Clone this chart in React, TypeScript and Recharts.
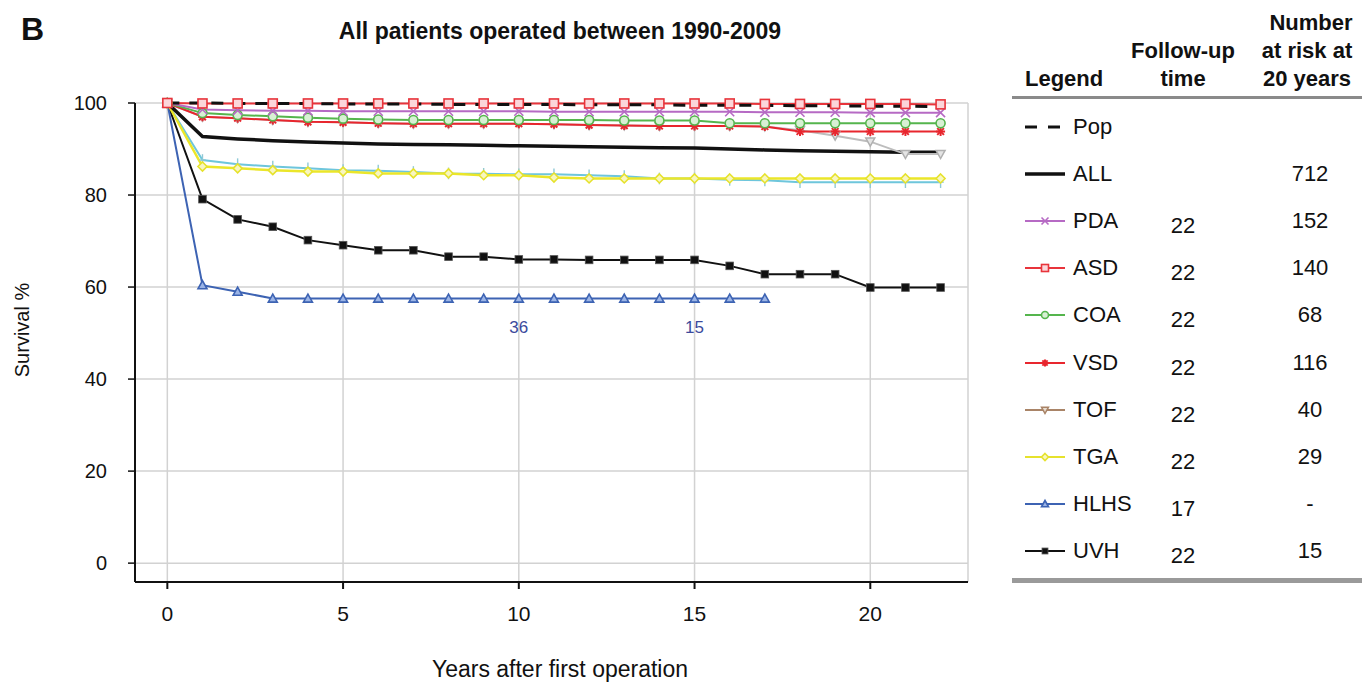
import React from 'react'
import { LineChart, Line, XAxis, YAxis, CartesianGrid, LabelList } from 'recharts'

const years = [0, 1, 2, 3, 4, 5, 6, 7, 8, 9, 10, 11, 12, 13, 14, 15, 16, 17, 18, 19, 20, 21, 22]

const pop = [100, 100, 99.9, 99.9, 99.9, 99.8, 99.8, 99.8, 99.7, 99.7, 99.7, 99.7, 99.6, 99.6, 99.6, 99.5, 99.5, 99.5, 99.4, 99.4, 99.3, 99.3, 99.2]
const allPatients = [100, 92.7, 92.2, 91.8, 91.5, 91.3, 91.1, 91.0, 90.9, 90.8, 90.7, 90.6, 90.5, 90.4, 90.3, 90.2, 90.0, 89.8, 89.6, 89.5, 89.4, 89.3, 89.3]
const pda = [100, 98.6, 98.4, 98.3, 98.3, 98.2, 98.2, 98.2, 98.2, 98.2, 98.2, 98.1, 98.1, 98.1, 98.1, 98.1, 98.1, 98.0, 98.0, 98.0, 97.9, 97.9, 97.9]
const asd = [100, 99.9, 99.9, 99.9, 99.9, 99.9, 99.9, 99.9, 99.9, 99.9, 99.9, 99.9, 99.9, 99.9, 99.9, 99.9, 99.9, 99.8, 99.8, 99.8, 99.8, 99.8, 99.7]
const coa = [100, 97.8, 97.4, 97.1, 96.8, 96.6, 96.4, 96.3, 96.3, 96.3, 96.3, 96.3, 96.3, 96.2, 96.2, 96.2, 95.6, 95.6, 95.6, 95.6, 95.6, 95.6, 95.6]
const vsd = [100, 97.0, 96.7, 96.3, 95.9, 95.8, 95.6, 95.5, 95.5, 95.5, 95.5, 95.4, 95.2, 95.1, 95.0, 95.0, 95.0, 94.9, 93.8, 93.8, 93.8, 93.8, 93.8]
const tof = [100, 97.0, 96.7, 96.3, 95.9, 95.8, 95.6, 95.5, 95.5, 95.5, 95.5, 95.4, 95.2, 95.1, 95.0, 95.0, 95.0, 94.9, 94.1, 92.9, 91.6, 88.9, 88.9]
const other = [100, 87.6, 86.7, 86.2, 85.8, 85.4, 85.3, 85.0, 84.7, 84.6, 84.5, 84.5, 84.3, 84.1, 83.6, 83.6, 83.3, 83.2, 82.8, 82.8, 82.8, 82.8, 82.8]
const tga = [100, 86.2, 85.8, 85.4, 85.1, 85.1, 84.7, 84.7, 84.7, 84.3, 84.3, 83.8, 83.6, 83.6, 83.6, 83.6, 83.6, 83.6, 83.6, 83.6, 83.6, 83.6, 83.6]
const hlhs = [100, 60.4, 59.0, 57.5, 57.5, 57.5, 57.5, 57.5, 57.5, 57.5, 57.5, 57.5, 57.5, 57.5, 57.5, 57.5, 57.5, 57.5]
const uvh = [100, 79.1, 74.7, 73.1, 70.2, 69.1, 68.0, 68.0, 66.6, 66.6, 66.0, 66.0, 65.9, 65.9, 65.9, 65.9, 64.6, 62.8, 62.8, 62.8, 59.9, 59.9, 59.9]

// numbers at risk written under the HLHS curve
const hlhsAtRisk: Record<number, string> = { 10: '36', 15: '15' }

const xTicks = [0, 5, 10, 15, 20]
const yTicks = [0, 20, 40, 60, 80, 100]

const legendRows = [
  { name: 'Pop', followUp: '', atRisk: '' },
  { name: 'ALL', followUp: '', atRisk: '712' },
  { name: 'PDA', followUp: '22', atRisk: '152' },
  { name: 'ASD', followUp: '22', atRisk: '140' },
  { name: 'COA', followUp: '22', atRisk: '68' },
  { name: 'VSD', followUp: '22', atRisk: '116' },
  { name: 'TOF', followUp: '22', atRisk: '40' },
  { name: 'TGA', followUp: '22', atRisk: '29' },
  { name: 'HLHS', followUp: '17', atRisk: '-' },
  { name: 'UVH', followUp: '22', atRisk: '15' },
]

const data = years.map((year, i) => ({
  year,
  pop: pop[i],
  all: allPatients[i],
  pda: pda[i],
  asd: asd[i],
  coa: coa[i],
  vsd: vsd[i],
  tof: tof[i],
  other: other[i],
  tga: tga[i],
  hlhs: i < hlhs.length ? hlhs[i] : null,
  uvh: uvh[i],
}))

type Shape = 'x' | 'square' | 'circle' | 'star' | 'tridown' | 'diamond' | 'triup' | 'block' | 'tick'

const style: Record<string, { color: string; shape?: Shape; fill?: string }> = {
  Pop: { color: '#111' },
  ALL: { color: '#111' },
  PDA: { color: '#b66ac4', shape: 'x' },
  ASD: { color: '#e8343b', shape: 'square', fill: '#fbd6da' },
  COA: { color: '#55b54d', shape: 'circle', fill: '#d8f0d4' },
  VSD: { color: '#e8262e', shape: 'star' },
  TOF: { color: '#a98467', shape: 'tridown', fill: '#e8dccf' },
  TGA: { color: '#e6e22c', shape: 'diamond', fill: '#f8f6c0' },
  HLHS: { color: '#3d63b3', shape: 'triup', fill: '#9bb4e6' },
  UVH: { color: '#111', shape: 'block' },
}

function marker(shape: Shape, cx: number, cy: number, color: string, fill = 'none', s = 4.5) {
  switch (shape) {
    case 'x':
      return (
        <g stroke={color} strokeWidth={1.6}>
          <line x1={cx - s} y1={cy - s} x2={cx + s} y2={cy + s} />
          <line x1={cx - s} y1={cy + s} x2={cx + s} y2={cy - s} />
        </g>
      )
    case 'square':
      return <rect x={cx - s} y={cy - s} width={s * 2} height={s * 2} fill={fill} stroke={color} strokeWidth={1.6} />
    case 'circle':
      return <circle cx={cx} cy={cy} r={s} fill={fill} stroke={color} strokeWidth={1.6} />
    case 'star':
      return (
        <g stroke={color} strokeWidth={2}>
          <line x1={cx - s} y1={cy} x2={cx + s} y2={cy} />
          <line x1={cx} y1={cy - s} x2={cx} y2={cy + s} />
          <line x1={cx - s * 0.75} y1={cy - s * 0.75} x2={cx + s * 0.75} y2={cy + s * 0.75} />
          <line x1={cx - s * 0.75} y1={cy + s * 0.75} x2={cx + s * 0.75} y2={cy - s * 0.75} />
        </g>
      )
    case 'tridown':
      return <polygon points={`${cx - s},${cy - s * 0.8} ${cx + s},${cy - s * 0.8} ${cx},${cy + s}`} fill={fill} stroke={color} strokeWidth={1.5} />
    case 'diamond':
      return <polygon points={`${cx},${cy - s} ${cx + s},${cy} ${cx},${cy + s} ${cx - s},${cy}`} fill={fill} stroke={color} strokeWidth={1.6} />
    case 'triup':
      return <polygon points={`${cx - s},${cy + s * 0.8} ${cx + s},${cy + s * 0.8} ${cx},${cy - s}`} fill={fill} stroke={color} strokeWidth={1.6} />
    case 'block':
      return <rect x={cx - s * 0.85} y={cy - s * 0.85} width={s * 1.7} height={s * 1.7} fill={color} stroke="#555" strokeWidth={0.8} />
    case 'tick':
      return (
        <g stroke={color} strokeWidth={1.4}>
          <line x1={cx} y1={cy - s * 1.3} x2={cx} y2={cy + s * 1.3} />
          <line x1={cx - s * 0.7} y1={cy} x2={cx + s * 0.7} y2={cy} />
        </g>
      )
  }
}

function dotFor(key: string, shape: Shape, color: string, fill?: string) {
  return (props: any) => {
    const { cx, cy, index } = props
    if (cx == null || cy == null || props.value == null) return <g key={`${key}-${index}`} />
    return <g key={`${key}-${index}`}>{marker(shape, cx, cy, color, fill)}</g>
  }
}

function AtRiskLabel(props: any) {
  const { x, y, index } = props
  const txt = hlhsAtRisk[index]
  if (!txt || x == null) return null
  return (
    <text x={x} y={y + 34} textAnchor="middle" fontSize={17} fill="#3b4a9c" fontFamily='"Liberation Sans", Arial, sans-serif'>
      {txt}
    </text>
  )
}

function LegendSample({ name }: { name: string }) {
  const st = style[name]
  return (
    <svg width={46} height={20} style={{ position: 'absolute', left: 1022, top: -10 }}>
      {name === 'Pop' ? (
        <g stroke="#111" strokeWidth={3}>
          <line x1={3} y1={10} x2={15} y2={10} />
          <line x1={26} y1={10} x2={38} y2={10} />
        </g>
      ) : (
        <line x1={3} y1={10} x2={43} y2={10} stroke={st.color} strokeWidth={name === 'ALL' ? 3.5 : 2} />
      )}
      {st.shape && marker(st.shape, 23, 10, st.color, st.fill, 3.5)}
    </svg>
  )
}

const font = '"Liberation Sans", Arial, Helvetica, sans-serif'
const head = { position: 'absolute' as const, textAlign: 'center' as const, fontSize: 22, fontWeight: 'bold' as const, whiteSpace: 'nowrap' as const }

export default function App() {
  const rowTop = 127
  const rowGap = 47.1
  return (
    <div style={{ position: 'absolute', left: 0, top: 0, width: 1362, height: 684, background: '#fff', fontFamily: font, color: '#111', overflow: 'hidden' }}>
      <div style={{ position: 'absolute', left: 21, top: 11, fontSize: 32, fontWeight: 'bold' }}>B</div>
      <div style={{ position: 'absolute', left: 260, width: 600, top: 18, textAlign: 'center', fontSize: 23, fontWeight: 'bold' }}>
        All patients operated between 1990-2009
      </div>
      <div style={{ position: 'absolute', left: 22, top: 330, transform: 'translate(-50%, -50%) rotate(-90deg)', fontSize: 20, whiteSpace: 'nowrap' }}>
        Survival %
      </div>
      <div style={{ position: 'absolute', left: 260, width: 600, top: 656, textAlign: 'center', fontSize: 23 }}>
        Years after first operation
      </div>

      <div style={{ position: 'absolute', left: 0, top: 0 }}>
        <LineChart width={1000} height={684} data={data} margin={{ top: 103, right: 32, bottom: 62, left: 0 }}>
          <CartesianGrid stroke="#d2d2d2" strokeWidth={1.5} />
          <XAxis
            dataKey="year"
            type="number"
            domain={[-0.92, 22.78]}
            ticks={xTicks}
            height={40}
            tick={{ fill: '#111', fontSize: 21, fontFamily: font }}
            tickSize={7}
            tickMargin={17}
            axisLine={{ stroke: '#111', strokeWidth: 2 }}
            tickLine={{ stroke: '#111', strokeWidth: 2 }}
          />
          <YAxis
            type="number"
            domain={[-4.1, 100]}
            ticks={yTicks}
            width={135}
            tick={{ fill: '#111', fontSize: 20, fontFamily: font }}
            tickSize={7}
            tickMargin={21}
            axisLine={{ stroke: '#111', strokeWidth: 2 }}
            tickLine={{ stroke: '#111', strokeWidth: 1.5 }}
          />
          <Line dataKey="uvh" stroke="#111" strokeWidth={2} dot={dotFor('uvh', 'block', '#111')} isAnimationActive={false} />
          <Line dataKey="hlhs" stroke="#3d63b3" strokeWidth={2} dot={dotFor('hlhs', 'triup', '#3d63b3', '#9bb4e6')} isAnimationActive={false} connectNulls={false}>
            <LabelList dataKey="hlhs" content={AtRiskLabel} />
          </Line>
          <Line dataKey="other" stroke="#6ec6dc" strokeWidth={2} dot={dotFor('other', 'tick', '#8fc9d6')} isAnimationActive={false} />
          <Line dataKey="tga" stroke="#ebe62a" strokeWidth={2.5} dot={dotFor('tga', 'diamond', '#e6e22c', '#f8f6c0')} isAnimationActive={false} />
          <Line dataKey="all" stroke="#111" strokeWidth={3.5} dot={false} isAnimationActive={false} />
          <Line dataKey="tof" stroke="#bdbdbd" strokeWidth={2} dot={dotFor('tof', 'tridown', '#b0b0b0', '#e4e4e4')} isAnimationActive={false} />
          <Line dataKey="vsd" stroke="#e8262e" strokeWidth={2} dot={dotFor('vsd', 'star', '#e8262e')} isAnimationActive={false} />
          <Line dataKey="coa" stroke="#55b54d" strokeWidth={2} dot={dotFor('coa', 'circle', '#55b54d', '#d8f0d4')} isAnimationActive={false} />
          <Line dataKey="pda" stroke="#b66ac4" strokeWidth={2} dot={dotFor('pda', 'x', '#b66ac4')} isAnimationActive={false} />
          <Line dataKey="asd" stroke="#e8343b" strokeWidth={2} dot={dotFor('asd', 'square', '#e8343b', '#fbd6da')} isAnimationActive={false} />
          <Line dataKey="pop" stroke="#111" strokeWidth={3} strokeDasharray="12 10" dot={false} isAnimationActive={false} />
        </LineChart>
      </div>

      {/* table legend */}
      <div style={{ ...head, left: 1246, width: 130, top: 10 }}>Number</div>
      <div style={{ ...head, left: 1118, width: 130, top: 38 }}>Follow-up</div>
      <div style={{ ...head, left: 1242, width: 130, top: 38 }}>at risk at</div>
      <div style={{ ...head, left: 1025, top: 66, textAlign: 'left' }}>Legend</div>
      <div style={{ ...head, left: 1118, width: 130, top: 66 }}>time</div>
      <div style={{ ...head, left: 1242, width: 130, top: 66 }}>20 years</div>
      <div style={{ position: 'absolute', left: 1012, top: 96, width: 350, height: 3, background: '#8a8a8a' }} />
      {legendRows.map((r, i) => {
        const cy = rowTop + i * rowGap
        return (
          <div key={r.name} style={{ position: 'absolute', left: 0, top: cy }}>
            <LegendSample name={r.name} />
            <div style={{ position: 'absolute', left: 1073, top: -13, fontSize: 22, whiteSpace: 'nowrap' }}>{r.name}</div>
            <div style={{ position: 'absolute', left: 1143, width: 80, top: -8, textAlign: 'center', fontSize: 22 }}>{r.followUp}</div>
            <div style={{ position: 'absolute', left: 1270, width: 80, top: -13, textAlign: 'center', fontSize: 22 }}>{r.atRisk}</div>
          </div>
        )
      })}
      <div style={{ position: 'absolute', left: 1012, top: 578, width: 350, height: 5, background: '#9a9a9a' }} />
    </div>
  )
}
